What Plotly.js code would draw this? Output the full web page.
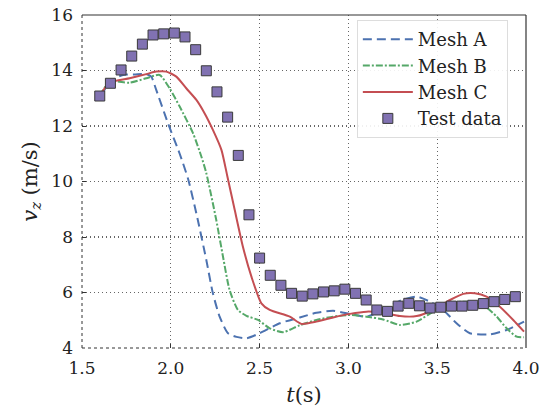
<!DOCTYPE html>
<html>
<head>
<meta charset="utf-8">
<script src="https://cdn.plot.ly/plotly-3.0.1.min.js"></script>
<style>html,body{margin:0;padding:0;background:#fff;}#chart{width:541px;height:414px;}</style>
</head>
<body>
<div id="chart"></div>
<script>
// Mesh A (blue dashed)
const meshA_t = [1.60,1.674,1.73,1.80,1.862,1.89,1.918,1.984,2.05,2.097,2.144,2.20,2.237,2.275,2.322,2.37,2.426,2.50,2.613,2.726,2.82,2.914,3.008,3.102,3.196,3.29,3.384,3.459,3.534,3.609,3.684,3.797,3.891,3.989];
const meshA_v = [13.08,13.66,13.84,13.86,13.87,13.78,13.30,12.10,11.00,10.10,8.85,7.17,5.97,5.13,4.53,4.40,4.35,4.53,4.89,5.10,5.27,5.34,5.23,5.13,5.37,5.70,5.85,5.67,5.37,4.89,4.53,4.49,4.65,4.95];
// Mesh B (green dash-dot)
const meshB_t = [1.60,1.655,1.768,1.862,1.937,1.993,2.05,2.125,2.172,2.20,2.256,2.294,2.331,2.378,2.426,2.491,2.557,2.632,2.726,2.82,2.914,3.008,3.102,3.196,3.29,3.384,3.477,3.572,3.666,3.759,3.835,3.891,3.947,3.989];
const meshB_v = [13.08,13.60,13.56,13.72,13.84,13.36,12.70,11.74,10.90,10.30,8.61,7.29,6.09,5.37,5.16,5.01,4.71,4.57,4.82,5.01,5.13,5.19,5.13,5.03,4.83,4.95,5.31,5.61,5.67,5.55,5.13,4.71,4.41,4.39];
// Mesh C (red solid)
const meshC_t = [1.60,1.655,1.768,1.862,1.918,1.975,2.031,2.087,2.144,2.19,2.237,2.285,2.318,2.36,2.406,2.454,2.51,2.557,2.67,2.735,2.82,2.914,3.008,3.102,3.196,3.29,3.384,3.477,3.572,3.647,3.712,3.778,3.853,3.928,3.989];
const meshC_v = [13.08,13.56,13.72,13.87,13.96,13.96,13.78,13.36,12.94,12.46,11.86,11.14,10.20,8.97,7.65,6.57,5.61,5.37,5.13,4.87,4.95,5.10,5.23,5.31,5.27,5.15,5.15,5.37,5.73,5.95,5.97,5.85,5.49,5.01,4.59];
// Test data (squares)
const test_t = [1.60,1.66,1.72,1.78,1.84,1.90,1.96,2.02,2.08,2.14,2.20,2.26,2.32,2.38,2.44,2.50,2.56,2.62,2.68,2.74,2.80,2.86,2.92,2.98,3.04,3.10,3.16,3.22,3.28,3.34,3.40,3.46,3.52,3.58,3.64,3.70,3.76,3.82,3.88,3.94];
const test_v = [13.08,13.54,14.02,14.52,14.95,15.28,15.32,15.35,15.21,14.75,13.99,13.23,12.32,10.94,8.80,7.24,6.62,6.26,5.97,5.87,5.95,6.02,6.06,6.12,5.97,5.73,5.37,5.32,5.51,5.61,5.52,5.44,5.47,5.51,5.51,5.54,5.60,5.67,5.75,5.85];

const xTicks = [1.5,2.0,2.5,3.0,3.5,4.0];
const yTicks = [4,6,8,10,12,14,16];

const font = 'DejaVu Serif, serif';
const traces = [
  {x: meshA_t, y: meshA_v, name: 'Mesh A', mode: 'lines', line: {color: '#4c72b0', width: 2, dash: '9px,5px', shape: 'spline', smoothing: 0.6}},
  {x: meshB_t, y: meshB_v, name: 'Mesh B', mode: 'lines', line: {color: '#55a868', width: 2, dash: '7px,2px,2px,2px', shape: 'spline', smoothing: 0.6}},
  {x: meshC_t, y: meshC_v, name: 'Mesh C', mode: 'lines', line: {color: '#c44e52', width: 2, shape: 'spline', smoothing: 0.6}},
  {x: test_t, y: test_v, name: 'Test data', mode: 'markers', marker: {symbol: 'square', size: 10, color: '#8172b2', line: {color: '#3a3a3a', width: 1}}}
];

const axisCommon = {
  showline: false, zeroline: false,
  showgrid: true, gridcolor: '#666', griddash: '1px,3px', gridwidth: 1.3,
  ticks: 'inside', ticklen: 4, tickcolor: '#333', tickwidth: 1,
  tickfont: {family: font, size: 17, color: '#222'}
};

const layout = {
  width: 541, height: 414,
  margin: {l: 82, r: 15, t: 15, b: 66},
  paper_bgcolor: '#fff', plot_bgcolor: '#fff',
  showlegend: true,
  xaxis: Object.assign({}, axisCommon, {
    range: [1.5, 4.0], tickvals: xTicks, ticktext: xTicks.map(v => v.toFixed(1)),
    ticklabelstandoff: 8,
    title: {text: '<i>t</i>(s)', font: {family: font, size: 21, color: '#222'}, standoff: 10}
  }),
  yaxis: Object.assign({}, axisCommon, {
    range: [4, 16], tickvals: yTicks, ticktext: yTicks.map(String),
    ticklabelstandoff: 8,
    title: {text: '<i>v</i><sub><i>z</i></sub> (m/s)', font: {family: font, size: 21, color: '#222'}, standoff: 8}
  }),
  legend: {
    x: 0.619, y: 0.985, xanchor: 'left', yanchor: 'top',
    bgcolor: 'rgba(255,255,255,0.9)', bordercolor: '#ddd', borderwidth: 1,
    font: {family: font, size: 18, color: '#222'},
    itemwidth: 50
  },
  shapes: [
    {type: 'line', xref: 'paper', yref: 'paper', x0: 0, x1: 1, y0: 1, y1: 1, line: {color: '#333', width: 1.2}},
    {type: 'line', xref: 'paper', yref: 'paper', x0: 1, x1: 1, y0: 0, y1: 1, line: {color: '#333', width: 1.2}},
    {type: 'line', xref: 'paper', yref: 'paper', x0: 0, x1: 1, y0: 0, y1: 0, line: {color: '#333', width: 1, dash: 'dot'}},
    {type: 'line', xref: 'paper', yref: 'paper', x0: 0, x1: 0, y0: 0, y1: 1, line: {color: '#333', width: 1, dash: 'dot'}}
  ]
};

Plotly.newPlot('chart', traces, layout, {displayModeBar: false, staticPlot: true});
</script>
</body>
</html>
